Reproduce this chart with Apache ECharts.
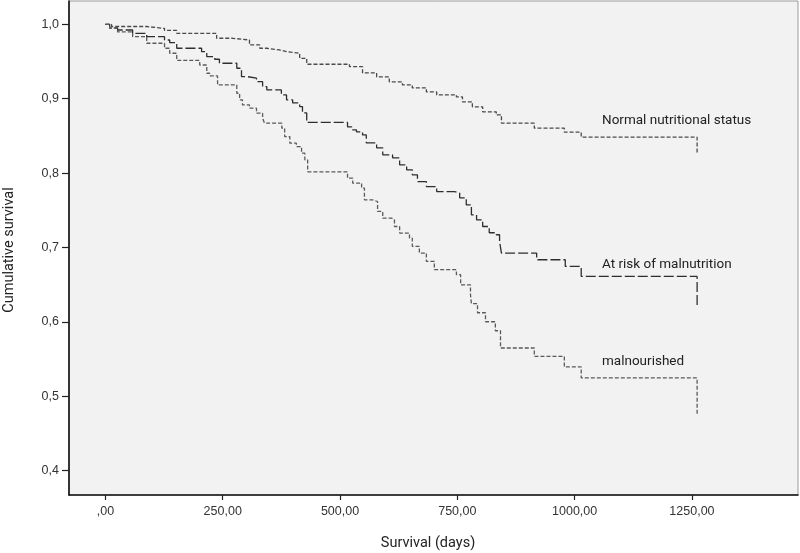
<!DOCTYPE html>
<html>
<head>
<meta charset="utf-8">
<script src="https://cdn.jsdelivr.net/npm/echarts@6/dist/echarts.min.js"></script>
<style>
html,body{margin:0;padding:0;background:#fff;}
#c{width:800px;height:553px;}
</style>
</head>
<body>
<div id="c"></div>
<script>
// Survival time (days) at which each step occurs, and cumulative survival after it
const normalDays = [0, 13, 88, 126, 152, 237, 271, 307, 329, 344, 371, 386, 414, 429, 520, 548, 578, 605, 633, 654, 684, 706, 748, 761, 782, 804, 833, 844, 914, 978, 1014, 1261];
const normalSurv = [1.0, 0.997, 0.9944, 0.9917, 0.9879, 0.9812, 0.9789, 0.9722, 0.9678, 0.9655, 0.9632, 0.9611, 0.9543, 0.9463, 0.9431, 0.9346, 0.9293, 0.9225, 0.9185, 0.9145, 0.9091, 0.9051, 0.9024, 0.8957, 0.889, 0.8823, 0.8782, 0.8671, 0.8603, 0.855, 0.8483, 0.8268];

const atRiskDays = [0, 9, 26, 58, 88, 126, 137, 152, 205, 216, 233, 243, 280, 290, 303, 322, 335, 344, 375, 386, 399, 414, 420, 429, 516, 525, 535, 548, 556, 578, 591, 612, 627, 642, 654, 665, 684, 706, 744, 755, 769, 780, 791, 804, 818, 833, 840, 844, 919, 980, 1014, 1261];
const atRiskSurv = [1.0, 0.995, 0.9923, 0.9879, 0.9833, 0.9789, 0.9753, 0.9678, 0.9632, 0.9565, 0.953, 0.9476, 0.9409, 0.9296, 0.9275, 0.9229, 0.9162, 0.9118, 0.9051, 0.8984, 0.8943, 0.8894, 0.8809, 0.8681, 0.8621, 0.8581, 0.8554, 0.8513, 0.8406, 0.8339, 0.8245, 0.8205, 0.8111, 0.8044, 0.7976, 0.7886, 0.7819, 0.7752, 0.7731, 0.7668, 0.7574, 0.7439, 0.7372, 0.7282, 0.7198, 0.7171, 0.7081, 0.6925, 0.6835, 0.6745, 0.6611, 0.6186];

const malDays = [0, 9, 26, 58, 88, 126, 137, 152, 201, 216, 222, 239, 280, 286, 292, 307, 322, 335, 339, 376, 382, 393, 407, 418, 425, 431, 516, 527, 546, 552, 569, 580, 591, 610, 616, 627, 648, 654, 669, 684, 701, 748, 757, 778, 780, 793, 810, 831, 842, 914, 978, 1014, 1261];
const malSurv = [1.0, 0.995, 0.9897, 0.9833, 0.9745, 0.9678, 0.9611, 0.9514, 0.9453, 0.9342, 0.9306, 0.9185, 0.9073, 0.8984, 0.8916, 0.8872, 0.8805, 0.8738, 0.8671, 0.8603, 0.8491, 0.8402, 0.8356, 0.8268, 0.8178, 0.8017, 0.7932, 0.7865, 0.7798, 0.7641, 0.7618, 0.7484, 0.7395, 0.7372, 0.7282, 0.7194, 0.7126, 0.7014, 0.6925, 0.6812, 0.6701, 0.6634, 0.6498, 0.6365, 0.6244, 0.6123, 0.6002, 0.5881, 0.5649, 0.5537, 0.5394, 0.5246, 0.4754];

const xTicks = [0, 250, 500, 750, 1000, 1250];
const yTicks = [0.4, 0.5, 0.6, 0.7, 0.8, 0.9, 1.0];
const groupNames = ['Normal nutritional status', 'At risk of malnutrition', 'malnourished'];

function pairs(d, s) { return d.map((v, i) => [v, s[i]]); }

const chart = echarts.init(document.getElementById('c'), null, {renderer: 'canvas'});
const tickFont = {fontFamily: 'Liberation Sans', fontSize: 12.5, color: '#333'};
const annFont = '13.5px Roboto';

chart.setOption({
  animation: false,
  backgroundColor: '#ffffff',
  grid: {left: 69, right: 2, top: 1, bottom: 58, show: true, backgroundColor: '#f2f2f2', borderColor: '#9a9a9a', borderWidth: 1},
  xAxis: {
    type: 'value', min: -77.6, max: 1476,
    axisLine: {show: true, onZero: false, lineStyle: {color: '#111', width: 1.6}},
    axisTick: {show: true, length: 5, lineStyle: {color: '#222', width: 1.2}, customValues: xTicks},
    axisLabel: Object.assign({customValues: xTicks, margin: 10,
      formatter: v => (v === 0 ? '' : String(Math.round(v))) + ',00'}, tickFont),
    splitLine: {show: false}
  },
  yAxis: {
    type: 'value', min: 0.3673, max: 1.0313,
    axisLine: {show: true, onZero: false, lineStyle: {color: '#111', width: 1.6}},
    axisTick: {show: true, length: 7, lineStyle: {color: '#222', width: 1.2}, customValues: yTicks},
    axisLabel: Object.assign({customValues: yTicks, margin: 10,
      formatter: v => v.toFixed(1).replace('.', ',')}, tickFont),
    splitLine: {show: false}
  },
  series: [
    {name: groupNames[0], type: 'line', step: 'end', symbol: 'none', data: pairs(normalDays, normalSurv),
      lineStyle: {color: '#4a4a4a', width: 1.3, type: [4, 2]}},
    {name: groupNames[1], type: 'line', step: 'end', symbol: 'none', data: pairs(atRiskDays, atRiskSurv),
      lineStyle: {color: '#2e2e2e', width: 1.3, type: [10, 3]}},
    {name: groupNames[2], type: 'line', step: 'end', symbol: 'none', data: pairs(malDays, malSurv),
      lineStyle: {color: '#5a5a5a', width: 1.3, type: [4, 2]}}
  ],
  graphic: [
    {type: 'text', left: 602, top: 114, style: {text: groupNames[0], font: annFont, fill: '#222'}},
    {type: 'text', left: 602, top: 258, style: {text: groupNames[1], font: annFont, fill: '#222'}},
    {type: 'text', left: 602, top: 355, style: {text: groupNames[2], font: annFont, fill: '#222'}},
    {type: 'text', x: 428, y: 543, style: {text: 'Survival (days)', font: '14.5px Roboto', fill: '#222', align: 'center', verticalAlign: 'middle'}},
    {type: 'text', x: 9, y: 250, rotation: Math.PI / 2, style: {text: 'Cumulative survival', font: '14.5px Roboto', fill: '#222', align: 'center', verticalAlign: 'middle'}}
  ]
});
</script>
</body>
</html>
